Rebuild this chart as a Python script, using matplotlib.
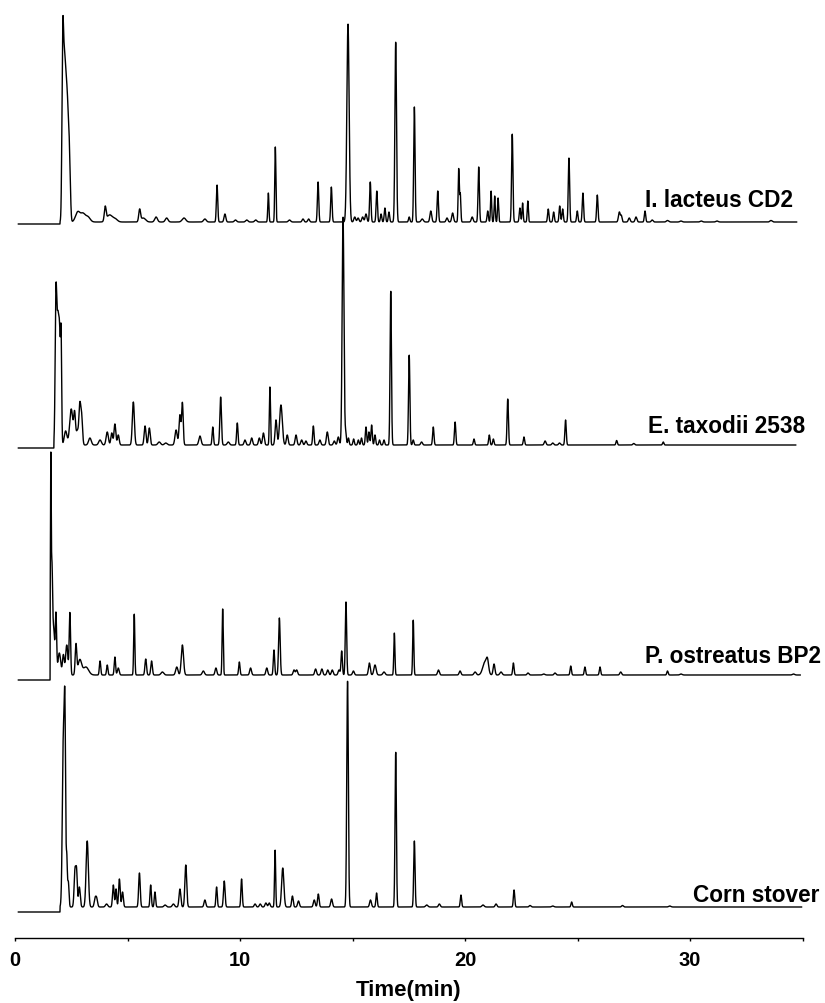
from matplotlib import pyplot as plt
from matplotlib.ticker import MultipleLocator
import numpy as np


# sample names, top to bottom
names = ["I. lacteus CD2", "E. taxodii 2538", "P. ostreatus BP2", "Corn stover"]

# peaks: (retention time in min, height, width in min)
lacteus_peaks = [
    (2.12, 170, .035), (2.19, 130, .04), (2.26, 105, .04), (2.33, 95, .04), (2.40, 70, .035), (2.46, 20, .03),
    (2.79, 10, .1), (3.02, 8, .1), (3.24, 5, .1), (4.01, 14, .04), (4.2, 7, .12), (4.45, 3, .1),
    (5.54, 12, .04), (5.7, 4, .1), (6.27, 5, .06), (6.74, 4, .06), (7.51, 4, .08), (8.44, 3, .06),
    (8.98, 37, .03), (9.33, 8, .04), (9.8, 2, .05), (10.3, 2, .05), (10.7, 2, .05),
    (11.26, 29, .025), (11.57, 75, .025), (12.2, 2, .05), (12.8, 3, .04), (13.05, 3, .04),
    (13.47, 40, .03), (14.06, 35, .03), (14.8, 198, .05),
    (15.1, 5, .04), (15.25, 4, .04), (15.45, 5, .04), (15.6, 8, .04),
    (15.79, 40, .03), (16.08, 31, .03), (16.27, 8, .03), (16.44, 14, .03), (16.62, 10, .03),
    (16.92, 180, .035), (17.52, 5, .03), (17.75, 115, .03),
    (18.1, 3, .05), (18.48, 11, .04), (18.79, 31, .03), (19.2, 4, .04), (19.45, 9, .04),
    (19.72, 53, .025), (19.79, 28, .025), (20.32, 5, .04), (20.61, 55, .03), (21.01, 11, .03),
    (21.16, 31, .025), (21.32, 26, .025), (21.47, 24, .025), (22.1, 88, .03), (22.44, 14, .03),
    (22.56, 19, .025), (22.79, 21, .025), (23.7, 13, .03), (23.94, 10, .03), (24.21, 16, .03),
    (24.34, 13, .03), (24.62, 64, .03), (24.99, 11, .03), (25.24, 29, .03), (25.88, 27, .03),
    (26.86, 10, .04), (26.95, 6, .03), (27.3, 4, .04), (27.6, 5, .04), (28.0, 11, .03),
    (28.32, 2, .04), (29.0, 1.5, .05), (29.6, 1, .05), (30.5, 1, .05), (31.2, 1, .05), (33.6, 1.5, .05),
]

taxodii_peaks = [
    (1.82, 145, .035), (1.9, 110, .04), (1.98, 105, .04), (2.05, 95, .025),
    (2.25, 14, .06), (2.5, 36, .07), (2.65, 30, .04), (2.77, 14, .05), (2.88, 38, .04), (2.96, 28, .04),
    (3.33, 7, .06), (3.78, 5, .06), (4.1, 13, .05), (4.3, 12, .04), (4.44, 21, .04), (4.59, 10, .04),
    (5.26, 43, .045), (5.78, 19, .04), (5.97, 17, .04), (6.41, 3, .06), (6.7, 2, .06),
    (7.16, 15, .05), (7.33, 30, .04), (7.44, 42, .035),
    (8.22, 9, .05), (8.79, 18, .03), (9.14, 48, .035), (9.48, 3, .05), (9.88, 22, .03),
    (10.22, 5, .04), (10.52, 7, .04), (10.86, 7, .04), (11.04, 12, .04),
    (11.33, 58, .025), (11.6, 25, .04), (11.82, 40, .06),
    (12.1, 10, .04), (12.49, 10, .04), (12.74, 5, .04), (12.93, 4, .04), (13.26, 19, .03),
    (13.55, 5, .04), (13.88, 13, .04), (14.19, 4, .04), (14.37, 8, .04),
    (14.58, 228, .04),
    (14.7, 12, .03), (14.82, 7, .03), (15.05, 6, .03), (15.26, 5, .03), (15.4, 7, .03),
    (15.6, 18, .03), (15.73, 13, .03), (15.85, 20, .03), (16.0, 10, .03), (16.2, 5, .03), (16.4, 5, .03),
    (16.7, 154, .03), (17.52, 90, .03), (17.7, 5, .03), (18.07, 3, .04), (18.59, 18, .03),
    (19.56, 23, .03), (20.4, 6, .03), (21.08, 10, .03), (21.26, 6, .03), (21.9, 46, .03),
    (22.62, 8, .03), (23.56, 4, .04), (23.9, 2, .04), (24.2, 2, .04), (24.47, 25, .03),
    (26.74, 4.5, .03), (27.5, 1.5, .04), (28.81, 3, .03),
]

ostreatus_peaks = [
    (1.59, 195, .018), (1.64, 105, .03), (1.72, 45, .04), (1.82, 60, .03), (1.97, 22, .06),
    (2.15, 20, .04), (2.3, 30, .05), (2.44, 62, .03), (2.71, 30, .035), (2.88, 15, .08), (3.15, 8, .12),
    (3.78, 14, .03), (4.1, 10, .03), (4.44, 18, .03), (4.59, 7, .04),
    (5.3, 61, .025), (5.81, 16, .035), (6.07, 14, .035), (6.55, 3, .06),
    (7.19, 8, .05), (7.44, 30, .05), (8.37, 4, .05), (8.93, 7, .04),
    (9.23, 66, .025), (9.97, 13, .03), (10.47, 7, .04), (11.19, 7, .04), (11.51, 25, .03), (11.75, 57, .035),
    (12.4, 5, .04), (12.52, 5, .04), (13.36, 6, .04), (13.64, 6, .04), (13.9, 5, .04), (14.1, 5, .04),
    (14.4, 5, .04), (14.52, 24, .03), (14.71, 73, .03), (15.04, 4, .04), (15.75, 12, .04),
    (16.0, 10, .05), (16.4, 3, .05), (16.86, 42, .025), (17.7, 55, .025), (18.82, 5, .04),
    (19.78, 4, .04), (20.45, 3, .05), (20.89, 13, .1), (21.0, 10, .05), (21.29, 11, .04),
    (21.6, 3, .05), (22.15, 12, .03), (22.8, 2, .04), (23.5, 1, .05), (24.0, 2, .04),
    (24.7, 9, .03), (25.33, 8, .03), (26.0, 8, .03), (26.92, 3, .04), (29.0, 4, .03),
    (29.6, 1, .05), (34.6, 1, .05),
]

corn_peaks = [
    (2.15, 168, .045), (2.22, 160, .03), (2.3, 48, .025), (2.37, 25, .03),
    (2.67, 38, .04), (2.74, 30, .03), (2.86, 20, .04),
    (3.21, 66, .05), (3.56, 8, .04), (3.63, 8, .04), (4.07, 3, .05), (4.37, 22, .035), (4.49, 18, .03),
    (4.64, 28, .035), (4.78, 15, .035), (5.53, 34, .035), (6.03, 22, .03), (6.22, 15, .03),
    (6.67, 2, .05), (7.04, 3, .05), (7.33, 18, .04), (7.59, 42, .04),
    (8.44, 7, .04), (8.96, 20, .03), (9.3, 26, .035), (10.07, 28, .03),
    (10.67, 3, .04), (10.9, 3, .04), (11.15, 4, .04), (11.3, 4, .04),
    (11.56, 57, .025), (11.9, 39, .05), (12.33, 11, .035), (12.6, 6, .04), (13.3, 7, .04),
    (13.48, 13, .035), (14.07, 8, .04), (14.78, 226, .035), (15.8, 7, .04), (16.07, 14, .03),
    (16.92, 155, .03), (17.75, 66, .03), (18.3, 2, .05), (18.86, 3, .04), (19.82, 12, .03),
    (20.8, 2, .05), (21.38, 3, .04), (22.18, 17, .03), (22.89, 1.5, .04), (23.9, 1, .05),
    (24.74, 5, .03), (27.0, 1.5, .04), (29.1, 1, .05),
]

# solvent delay end and last recorded time of each run (min)
run_start = [2.0, 1.73, 1.56, 2.0]
run_end = [34.74, 34.7, 34.9, 34.96]

# stacking of the traces, baseline step after the solvent delay, label places
offsets = [714, 490, 258, 26]
lifts = [2, 3, 5, 5]
label_pos = [(28.0, 732), (28.13, 506), (28.0, 276), (30.12, 37)]


# builds one trace out of its list of peaks
def build_trace(peaks, start, end):
    t = np.arange(0.15, end, 0.004)
    signal = np.zeros_like(t)
    for t0, h, w in peaks:
        signal += h * np.exp(-(t - t0) ** 2 / (2 * w ** 2))
    return t, signal * (t >= start)


plt.rcParams["font.family"] = ["Liberation Sans", "DejaVu Sans"]
plt.rcParams["font.weight"] = "bold"

fig = plt.figure(figsize=(8.25, 10.04), dpi=100)
ax = fig.add_axes([15 / 825, 1 - 939 / 1004, 787.5 / 825, 939 / 1004])

all_peaks = [lacteus_peaks, taxodii_peaks, ostreatus_peaks, corn_peaks]
for i, peaks in enumerate(all_peaks):
    t, signal = build_trace(peaks, run_start[i], run_end[i])
    level = offsets[i] + lifts[i] * (t >= run_start[i])
    ax.plot(t, level + signal, color="black", lw=1.0)
    ax.text(label_pos[i][0], label_pos[i][1], names[i], ha="left", va="baseline",
            fontsize=16.3, fontweight="bold")

ax.set_xlim(0, 35)
ax.set_ylim(0, 939)
for side in ["left", "right", "top"]:
    ax.spines[side].set_visible(False)
ax.spines["bottom"].set_linewidth(1.0)
ax.set_yticks([])
ax.xaxis.set_major_locator(MultipleLocator(10))
ax.xaxis.set_minor_locator(MultipleLocator(5))
ax.tick_params(axis="x", which="both", direction="out", length=2.5, width=1.0,
               labelsize=14.5, pad=6)
ax.set_xlabel("Time(min)", fontsize=16, fontweight="bold", labelpad=7)

fig.savefig("out.png", dpi=100)
